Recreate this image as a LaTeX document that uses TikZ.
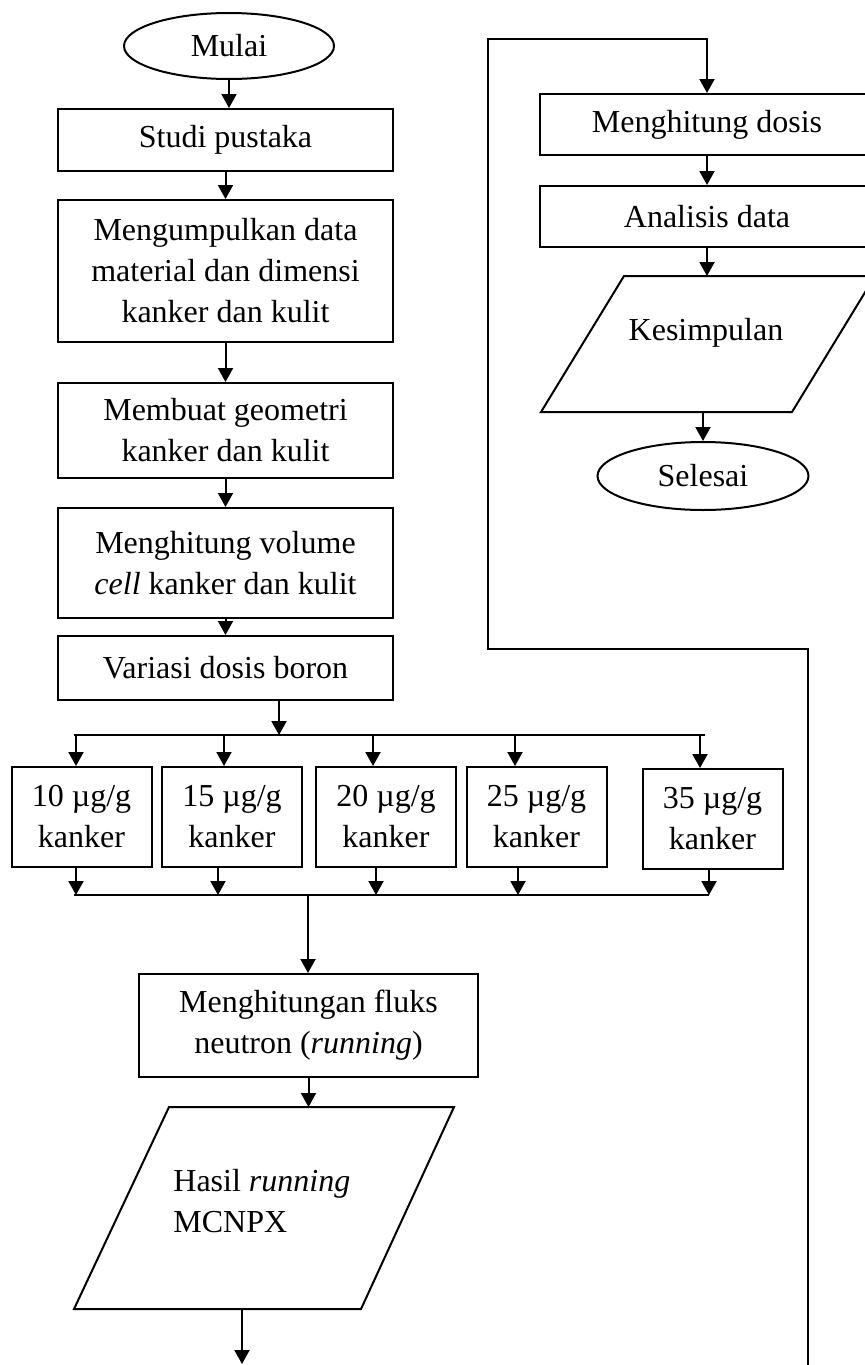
\documentclass[tikz,border=0pt]{standalone}
\usepackage{fontspec}
\setmainfont{Liberation Serif}
\usetikzlibrary{arrows.meta,shapes.geometric}

\tikzset{
  proses/.style={draw, line width=1pt, align=center, minimum width=167.5pt, minimum height=#1},
  proses/.default=31pt,
  kadar/.style={draw, line width=1pt, align=center, minimum width=70pt, minimum height=50pt},
  terminal/.style={draw, ellipse, line width=1pt, minimum width=105pt, minimum height=33pt, inner sep=0pt},
  panah/.style={line width=1pt, -{Triangle[length=7pt,width=7.5pt]}},
  garis/.style={line width=1pt},
}

\begin{document}
\begin{tikzpicture}[x=0.5pt, y=-0.5pt, every node/.style={font=\fontsize{16}{20.5}\selectfont}]
        \useasboundingbox (0,0) rectangle (865,1365);
        \clip (0,0) rectangle (865,1365);

        \node[terminal] (mulai) at (229,46) {Mulai};
        \node[proses] (studi) at (225.5,140) {Studi pustaka};
        \node[proses=71pt] (kumpul) at (225.5,271) {Mengumpulkan data\\material dan dimensi\\kanker dan kulit};
        \node[proses=47.5pt] (geometri) at (225.5,430.5) {Membuat geometri\\kanker dan kulit};
        \node[proses=55pt] (volume) at (225.5,563) {Menghitung volume\\\textit{cell} kanker dan kulit};
        \node[proses=32pt] (variasi) at (225.5,668) {Variasi dosis boron};

        \draw[panah] (mulai.south) -- (mulai.south |- studi.north);
        \draw[panah] (studi.south) -- (kumpul.north);
        \draw[panah] (kumpul.south) -- (geometri.north);
        \draw[panah] (geometri.south) -- (volume.north);
        \draw[panah] (volume.south) -- (variasi.north);

        \coordinate (pisah) at (279,735);
        \coordinate (cabang1) at (74,735);
        \coordinate (cabang2) at (705,735);
        \draw[panah] (variasi.south -| pisah) -- (pisah);
        \draw[garis] (cabang1) -- (cabang2);

        \coordinate (gabung1) at (74,895);
        \coordinate (gabung2) at (709,895);
        \draw[garis] (gabung1) -- (gabung2);

        \foreach \cx/\cy/\v/\ta/\tb in {81.5/817/10/76/76, 232/817/15/224/218, 386/817/20/373/376, 536.5/817/25/515/518, 712.5/819/35/700/709} {
            \node[kadar] (k\v) at (\cx,\cy) {\v{} µg/g\\kanker};
            \coordinate (a\v) at (\ta,735);
            \coordinate (b\v) at (\tb,895);
            \draw[panah] (a\v) -- (a\v |- k\v.north);
            \draw[panah] (b\v |- k\v.south) -- (b\v);
        }

        \node[proses=51.5pt, minimum width=169.5pt] (fluks) at (308.5,1025.5) {Menghitungan fluks\\neutron (\textit{running})};
        \coordinate (turun) at (308,895);
        \draw[panah] (turun) -- (turun |- fluks.north);

        \coordinate (h1) at (169,1107);
        \coordinate (h2) at (454,1107);
        \coordinate (h3) at (361,1309);
        \coordinate (h4) at (74,1309);
        \draw[garis] (h1) -- (h2) -- (h3) -- (h4) -- cycle;
        \node[anchor=west, align=left, inner sep=0pt] (hasil) at (173,1201) {Hasil \textit{running}\\MCNPX};
        \draw[panah] (fluks.south) -- (fluks.south |- h1);
        \coordinate (akhir) at (242,1364);
        \draw[panah] (akhir |- h4) -- (akhir);

        \node[proses=30.5pt, minimum width=167pt] (hitung) at (707,124.5) {Menghitung dosis};
        \node[proses=30.5pt, minimum width=167pt] (analisis) at (707,216.5) {Analisis data};
        \draw[panah] (hitung.south) -- (analisis.north);

        \coordinate (s1) at (624,276);
        \coordinate (s2) at (875,276);
        \coordinate (s3) at (792,412);
        \coordinate (s4) at (541,412);
        \draw[garis] (s1) -- (s2) -- (s3) -- (s4) -- cycle;
        \node (simpul) at (706,333) {Kesimpulan};
        \draw[panah] (analisis.south) -- (analisis.south |- s1);

        \node[terminal, minimum width=105.5pt, minimum height=34pt] (selesai) at (703,476) {Selesai};
        \draw[panah] (selesai.north |- s4) -- (selesai.north);

        \coordinate (balik) at (808,1365);
        \coordinate (naik) at (488,649);
        \coordinate (puncak) at (488,39);
        \draw[panah] (balik) |- (naik) -- (puncak) -| (hitung.north);
\end{tikzpicture}
\end{document}
